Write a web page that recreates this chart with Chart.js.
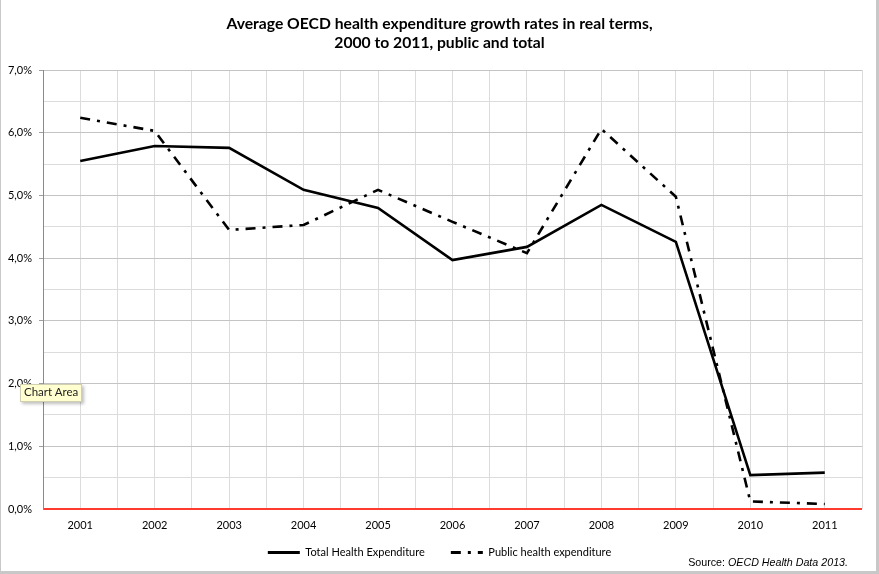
<!DOCTYPE html>
<html>
<head>
<meta charset="utf-8">
<script src="https://cdn.jsdelivr.net/npm/chart.js@4.4.1/dist/chart.umd.min.js"></script>
<style>
  html, body { margin: 0; padding: 0; background: #ffffff; }
  #wrap { position: relative; width: 879px; height: 574px; }
  #frame { position: absolute; left: 0; top: 0; width: 879px; height: 574px; box-sizing: border-box;
           border-left: 1px solid #c8c8c8; border-right: 3px solid #c8c8c8; border-bottom: 3px solid #c8c8c8;
           pointer-events: none; }
  #tip { position: absolute; left: 20px; top: 384px; height: 16px; padding: 0 3px; line-height: 16px;
         background: #ffffd0; border: 1px solid #d0d0b0; font: 11.5px Lato, sans-serif; color: #222;
         box-shadow: 2px 2px 3px rgba(0,0,0,0.25); white-space: nowrap; }
</style>
</head>
<body>
<div id="wrap">
  <canvas id="c" width="879" height="574"></canvas>
  <div id="frame"></div>
  <div id="tip">Chart Area</div>
</div>
<script>
const categories = ['2001','2002','2003','2004','2005','2006','2007','2008','2009','2010','2011'];
const totalHealth = [5.55, 5.79, 5.76, 5.09, 4.80, 3.97, 4.18, 4.85, 4.26, 0.54, 0.58];
const publicHealth = [6.24, 6.03, 4.45, 4.53, 5.09, 4.58, 4.08, 6.06, 4.98, 0.12, 0.08];
const seriesNames = ['Total Health Expenditure', 'Public health expenditure'];
const titleLines = ['Average OECD health expenditure growth rates in real terms,', '2000 to 2011, public and total'];
const yTicks = [0, 1, 2, 3, 4, 5, 6, 7];

const sourcePlugin = {
  id: 'sourceNote',
  afterDraw(chart) {
    const ctx = chart.ctx;
    ctx.save();
    ctx.fillStyle = '#000';
    ctx.textBaseline = 'middle';
    ctx.textAlign = 'left';
    const y = 563;
    const fs = '10.7px "Liberation Sans", Arial, sans-serif';
    ctx.font = fs;
    const a = 'Source: ';
    const wa = ctx.measureText(a).width;
    ctx.font = 'italic ' + fs;
    const b = 'OECD Health Data 2013.';
    const wb = ctx.measureText(b).width;
    const x0 = 848 - wa - wb;
    ctx.font = fs;
    ctx.fillText(a, x0, y);
    ctx.font = 'italic ' + fs;
    ctx.fillText(b, x0 + wa, y);
    ctx.restore();
  }
};

const fmt = v => v.toFixed(1).replace('.', ',') + '%';

new Chart(document.getElementById('c'), {
  type: 'line',
  data: {
    labels: categories,
    datasets: [
      { label: seriesNames[0], data: totalHealth, borderColor: '#000', backgroundColor: '#000',
        borderWidth: 2.6, pointRadius: 0, tension: 0, fill: false },
      { label: seriesNames[1], data: publicHealth, borderColor: '#000', backgroundColor: '#000',
        borderWidth: 2.6, borderDash: [10, 7, 3, 7], pointRadius: 0, tension: 0, fill: false }
    ]
  },
  options: {
    responsive: false,
    animation: false,
    devicePixelRatio: 1,
    layout: { padding: { left: 0, right: 0, top: 0, bottom: 6 } },
    plugins: {
      tooltip: { enabled: false },
      title: {
        display: true, text: titleLines, color: '#000',
        font: { family: 'Lato', size: 15.7, weight: 'bold', lineHeight: 1.2 },
        padding: { top: 15, bottom: 17.4 }
      },
      legend: {
        position: 'bottom',
        labels: {
          color: '#000', font: { family: 'Lato', size: 11 },
          usePointStyle: true, pointStyle: 'line', pointStyleWidth: 32, padding: 26,
          generateLabels(chart) {
            const items = Chart.defaults.plugins.legend.labels.generateLabels(chart);
            items.forEach(it => {
              const ds = chart.data.datasets[it.datasetIndex];
              it.lineDash = ds.borderDash || [];
              it.lineWidth = 3;
              it.strokeStyle = '#000';
            });
            return items;
          }
        }
      }
    },
    scales: {
      x: {
        type: 'category', position: 'bottom', offset: true,
        grid: { display: false, drawTicks: false },
        border: { display: false },
        ticks: { color: '#000', font: { family: 'Lato', size: 11 }, padding: 10, maxRotation: 0 },
        afterFit(s) { s.height = 12; s._computeLabelArea = () => undefined; }
      },
      xg: {
        type: 'linear', position: 'bottom', min: -0.5, max: 10.5,
        ticks: { display: false, stepSize: 0.5 },
        grid: { color: '#dcdcdc', lineWidth: 1, drawTicks: false },
        border: { display: false },
        afterFit(s) { s.height = 0; }
      },
      y: {
        type: 'linear', position: 'left', min: 0, max: 7,
        afterBuildTicks(s) {
          const t = [];
          for (let i = 0; i <= 14; i++) t.push({ value: i / 2 });
          s.ticks = t;
        },
        ticks: {
          color: '#000', font: { family: 'Lato', size: 11 }, padding: 7,
          callback: v => (yTicks.includes(v) ? fmt(v) : '')
        },
        grid: {
          color: c => (c.tick && c.tick.value === 0 ? '#ff3b2f' : (c.tick && Number.isInteger(c.tick.value) ? '#c4c4c4' : '#dcdcdc')),
          lineWidth: c => (c.tick && c.tick.value === 0 ? 2 : 1),
          tickColor: c => (c.tick && Number.isInteger(c.tick.value) && c.tick.value !== 0 ? '#a0a0a0' : 'rgba(0,0,0,0)'),
          tickLength: 4
        },
        border: { display: true, color: '#8a8a8a', width: 1 },
        afterFit(s) { s.width = 43; }
      },
      yr: {
        type: 'linear', position: 'right', display: true,
        ticks: { display: false }, grid: { display: false }, border: { display: false },
        afterFit(s) { s.width = 17; }
      }
    }
  },
  plugins: [sourcePlugin]
});
</script>
</body>
</html>
